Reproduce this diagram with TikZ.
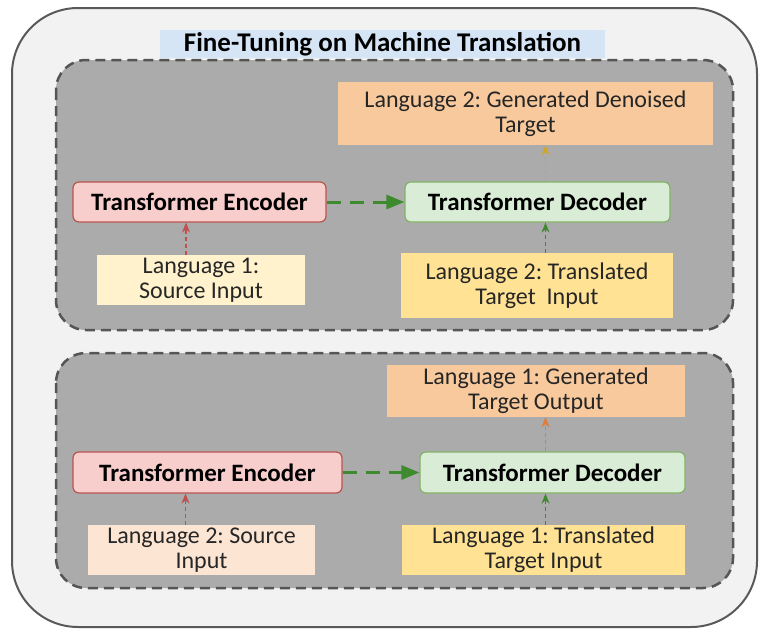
\documentclass[tikz,border=0pt]{standalone}
\usepackage{fontspec}
\setmainfont{Carlito}
\usepackage{tikz}
\usetikzlibrary{arrows.meta,positioning,calc}
\usepackage{xcolor}
\definecolor{framefill}{HTML}{F2F2F2}
\definecolor{frameline}{HTML}{595959}
\definecolor{panelfill}{HTML}{ABABAB}
\definecolor{panelline}{HTML}{555555}
\definecolor{titlefill}{HTML}{D5E5F5}
\definecolor{encfill}{HTML}{F8CECC}
\definecolor{encline}{HTML}{B85450}
\definecolor{decfill}{HTML}{D8ECD6}
\definecolor{decline}{HTML}{82B366}
\definecolor{srcfillA}{HTML}{FFF2CC}
\definecolor{srcfillB}{HTML}{FCE5D2}
\definecolor{trgfill}{HTML}{FFE293}
\definecolor{outfill}{HTML}{F8C99C}
\definecolor{textdark}{HTML}{262626}
\definecolor{redarr}{HTML}{C0504D}
\definecolor{greenarr}{HTML}{3D8B2E}
\definecolor{goldarr}{HTML}{D4A52A}
\definecolor{orangearr}{HTML}{E07B39}
\frenchspacing

\begin{document}
\begin{tikzpicture}[x=1pt, y=-1pt,
    block/.style={rectangle, inner sep=0pt, align=center, text=textdark, font=\fontsize{24}{25}\selectfont},
    model/.style={block, text=black, rounded corners=6pt, line width=1.2pt, font=\fontsize{25}{26}\selectfont\bfseries},
    panel/.style={fill=panelfill, draw=panelline, line width=2.5pt, dash pattern=on 10pt off 6pt, rounded corners=30pt},
    flow/.style={dash pattern=on 4pt off 3pt, line width=1.3pt, -{Stealth[length=10pt, width=8pt]}},
    pass/.style={dash pattern=on 14pt off 9pt, line width=3pt, -{Triangle[length=18pt, width=14pt]}, greenarr}]
  \useasboundingbox (0,0) rectangle (759,629);

  % Outer frame and title
  \draw[fill=framefill, draw=frameline, line width=2pt, rounded corners=66pt] (12,8) rectangle (757,627);
  \node[block, text=black, fill=titlefill, minimum width=445, minimum height=28, font=\fontsize{27}{28}\selectfont\bfseries] (title) at (382.5,44) {Fine-Tuning on Machine Translation};

  % Upper panel
  \draw[panel] (56,60) rectangle (733,330);
  \node[model, fill=encfill, draw=encline, minimum width=253, minimum height=40] (enc1) at (199.5,202) {Transformer Encoder};
  \node[model, fill=decfill, draw=decline, minimum width=265, minimum height=40] (dec1) at (537.5,202) {Transformer Decoder};
  \node[block, fill=srcfillA, minimum width=208, minimum height=50] (src1) at (201,280) {Language 1:\\Source Input};
  \node[block, fill=trgfill, minimum width=272, minimum height=65] (trg1) at (537,285.5) {Language 2: Translated\\Target\ \ Input};
  \node[block, fill=outfill, minimum width=375, minimum height=63] (out1) at (525.5,113.5) {Language 2: Generated Denoised\\Target};

  \draw[flow, redarr] ([xshift=-15pt]src1.north) -- ([xshift=-15pt]src1.north |- enc1.south);
  \draw[pass] (enc1) -- (dec1);
  \draw[flow, greenarr] ([xshift=8pt]trg1.north -| dec1.south) -- ([xshift=8pt]dec1.south);
  \draw[flow, goldarr] ([xshift=8pt]dec1.north) -- ([xshift=8pt]dec1.north |- out1.south);

  % Lower panel
  \draw[panel] (56,353) rectangle (733,588);
  \node[model, fill=encfill, draw=encline, minimum width=269, minimum height=41] (enc2) at (207.5,472.5) {Transformer Encoder};
  \node[model, fill=decfill, draw=decline, minimum width=265, minimum height=41] (dec2) at (552.5,472.5) {Transformer Decoder};
  \node[block, fill=srcfillB, minimum width=227, minimum height=50] (src2) at (201.5,550) {Language 2: Source\\Input};
  \node[block, fill=trgfill, minimum width=283, minimum height=50] (trg2) at (543.5,550) {Language 1: Translated\\Target Input};
  \node[block, fill=outfill, minimum width=298, minimum height=52] (out2) at (536,391) {Language 1: Generated\\Target Output};

  \draw[flow, redarr] ([xshift=-16pt]src2.north) -- ([xshift=-16pt]src2.north |- enc2.south);
  \draw[pass] (enc2) -- (dec2);
  \draw[flow, greenarr] ([xshift=-7pt]trg2.north -| dec2.south) -- ([xshift=-7pt]dec2.south);
  \draw[flow, orangearr] ([xshift=-7pt]dec2.north) -- ([xshift=-7pt]dec2.north |- out2.south);
\end{tikzpicture}
\end{document}
